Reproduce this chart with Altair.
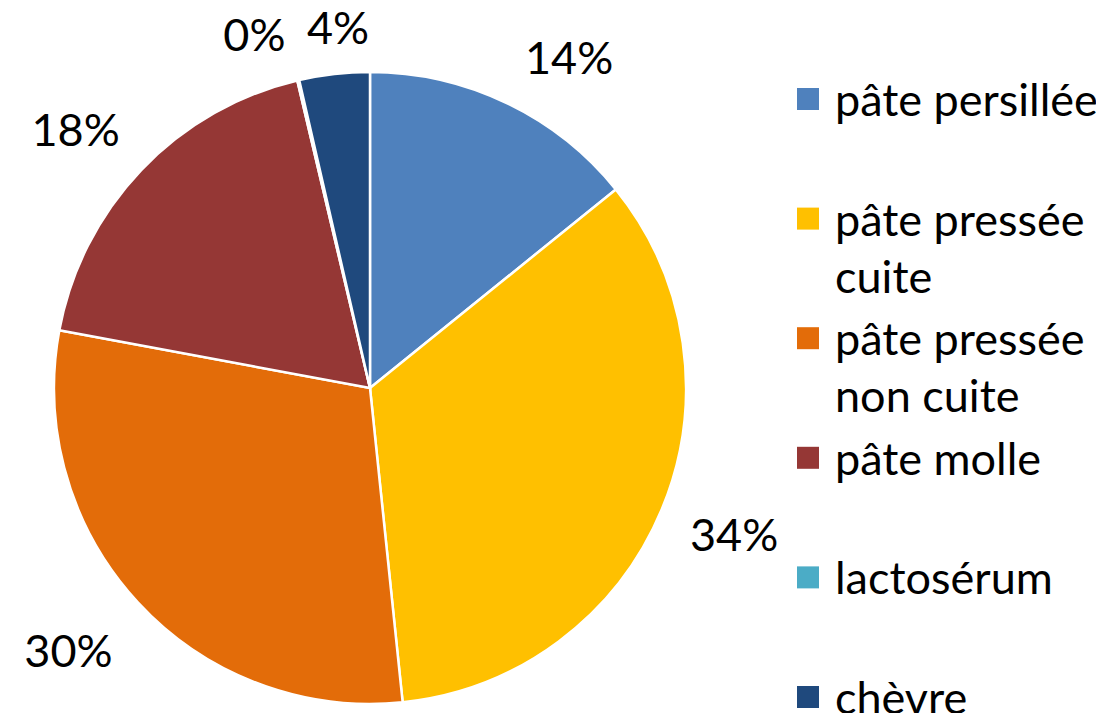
import altair as alt
import pandas as pd

categories = ["pâte persillée", "pâte pressée cuite", "pâte pressée non cuite",
              "pâte molle", "lactosérum", "chèvre"]
shares = [14.2, 34.2, 29.6, 18.4, 0.1, 3.6]
labels = ["14%", "34%", "30%", "18%", "0%", "4%"]
colors = ["#4F81BD", "#FFC000", "#E36C09", "#953735", "#4BACC6", "#1F497D"]
legend_lines = [["pâte persillée"], ["pâte pressée", "cuite"], ["pâte pressée", "non cuite"],
                ["pâte molle"], ["lactosérum"], ["chèvre"]]

FONT = "Lato"
FS = 45

df = pd.DataFrame({"cat": categories, "value": shares, "label": labels,
                   "idx": list(range(len(categories)))})

rows = []
for i, lines in enumerate(legend_lines):
    for j, t in enumerate(lines):
        rows.append({"cat": categories[i], "row": i, "line": j, "text": t,
                     "pos": i + j * 0.477})
leg = pd.DataFrame(rows)

color = alt.Color("cat:N", scale=alt.Scale(domain=categories, range=colors), legend=None)
CX, CY = 362, 380

pie = alt.Chart(df).mark_arc(outerRadius=316, stroke="white", strokeWidth=2.5).encode(
    theta=alt.Theta("value:Q", stack=True),
    color=color,
    order=alt.Order("idx:Q"),
    x=alt.value(CX), y=alt.value(CY),
)

offsets = {"14%": (31, 24), "34%": (4, -1), "30%": (-15, 0), "18%": (-12, 13),
           "0%": (-27, 29), "4%": (12, 30)}
text_layers = []
for lab, (ddx, ddy) in offsets.items():
    t = alt.Chart(df).transform_calculate(
        shown=f"datum.label == '{lab}' ? datum.label : ''"
    ).mark_text(radius=390, font=FONT, fontSize=FS, color="black",
                align="center", baseline="middle", dx=ddx, dy=ddy).encode(
        theta=alt.Theta("value:Q", stack=True),
        order=alt.Order("idx:Q"),
        text="shown:N",
        x=alt.value(CX), y=alt.value(CY),
    )
    text_layers.append(t)

yscale = alt.Scale(domain=[5.067, -0.761], nice=False, zero=False)
leg_sq = alt.Chart(leg).transform_filter("datum.line == 0").mark_square(
    size=484, opacity=1).encode(
    x=alt.value(800),
    y=alt.Y("pos:Q", scale=yscale, axis=None),
    color=color,
)
leg_txt = alt.Chart(leg).mark_text(font=FONT, fontSize=FS, color="black",
                                   align="left", baseline="middle", dy=3).encode(
    x=alt.value(827),
    y=alt.Y("pos:Q", scale=yscale, axis=None),
    text="text:N",
)

chart = alt.layer(pie, *text_layers, leg_sq, leg_txt).properties(
    width=1088, height=697,
    padding={"left": 0, "top": 0, "right": 0, "bottom": 20},
    autosize=alt.AutoSizeParams(type="none"),
).configure_view(stroke=None)

chart.save("out.html", embed_options={"renderer": "svg", "actions": False})
